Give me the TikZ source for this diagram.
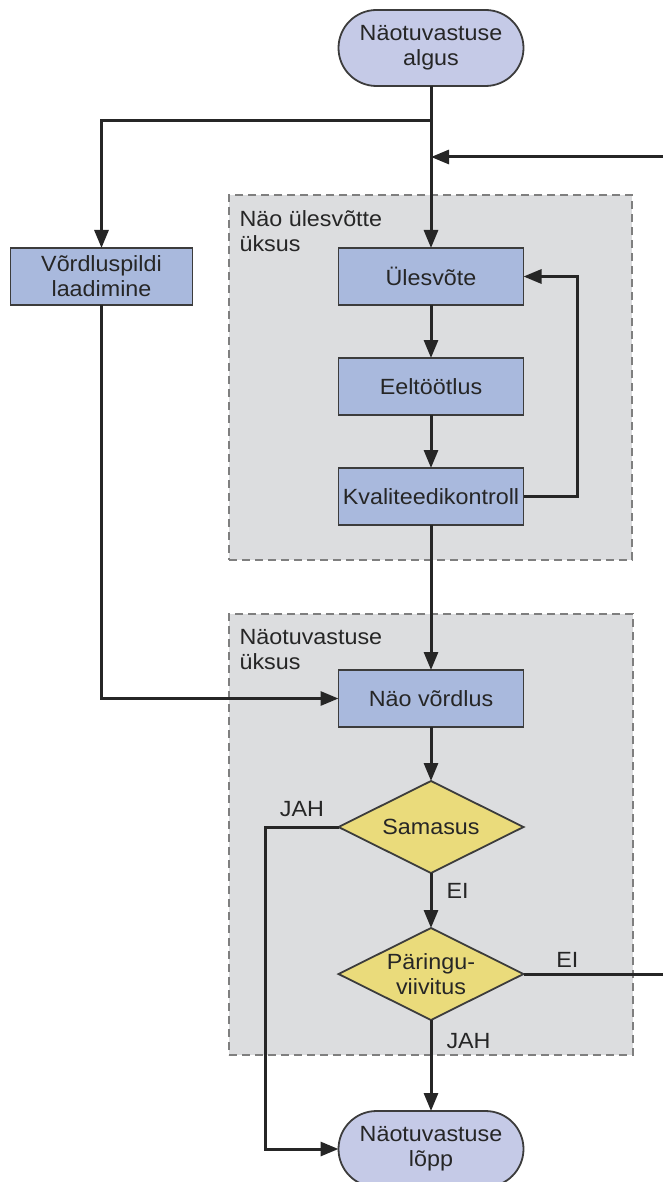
\documentclass[tikz,border=0pt]{standalone}
\usepackage{fontspec}
\setmainfont{Liberation Sans}[FakeStretch=1.06]
\definecolor{nvBox}{HTML}{A9B9DD}
\definecolor{nvTerm}{HTML}{C5CAE7}
\definecolor{nvDecide}{HTML}{EADB7B}
\definecolor{nvGroup}{HTML}{DCDDDF}
\definecolor{nvDash}{HTML}{7F7F7F}
\definecolor{nvLine}{HTML}{262626}
\usetikzlibrary{shapes.geometric, arrows.meta, positioning}

\begin{document}
\begin{tikzpicture}[
  x=0.5pt, y=-0.5pt,
  every node/.style={font=\fontsize{11}{12.5}\selectfont, text=nvLine},
  box/.style={draw=nvLine!90, fill=nvBox, line width=0.9pt, minimum width=92.5pt,
    minimum height=28.5pt, align=center, inner sep=1pt, outer sep=0pt},
  term/.style={draw=nvLine!90, fill=nvTerm, line width=0.9pt, rounded corners=19pt,
    minimum width=92.5pt, minimum height=38pt, align=center, inner sep=1pt, outer sep=0pt},
  decide/.style={diamond, aspect=2, draw=nvLine!90, fill=nvDecide, line width=0.9pt,
    minimum width=92.5pt, minimum height=46pt, align=center, inner sep=0pt, outer sep=0pt},
  grp/.style={draw=nvDash, fill=nvGroup, dashed, dash pattern=on 4pt off 2.5pt,
    line width=0.8pt, inner sep=0pt},
  grplbl/.style={anchor=north west, align=left, inner sep=0pt},
  arr/.style={-{Triangle[length=9pt, width=7pt]}, line width=1.5pt, draw=nvLine},
  line/.style={line width=1.5pt, draw=nvLine},
  lbl/.style={inner sep=2pt}
]
  \useasboundingbox (0,0) rectangle (663,1182);

  % Units
  \node[grp, minimum width=201.5pt, minimum height=182.5pt] (unitA) at (430.5,377.5) {};
  \node[grp, minimum width=202pt, minimum height=220.5pt] (unitB) at (431,834.5) {};
  \node[grplbl] at ([xshift=5.5pt, yshift=-8pt]unitA.north west) {Näo ülesvõtte\\üksus};
  \node[grplbl] at ([xshift=5.5pt, yshift=-8pt]unitB.north west) {Näotuvastuse\\üksus};

  % Nodes
  \node[term] (start) at (431,48) {Näotuvastuse\\algus};
  \node[box, below=81pt of start] (ules) {Ülesvõte};
  \node[box, below=26.5pt of ules] (eel) {Eeltöötlus};
  \node[box, below=26.5pt of eel] (kval) {Kvaliteedikontroll};
  \node[box, minimum width=91pt, left=73pt of ules] (vord) {Võrdluspildi\\laadimine};
  \node[box, below=72.5pt of kval] (vordlus) {Näo võrdlus};
  \node[decide, below=27pt of vordlus] (sam) {Samasus};
  \node[decide, below=27.5pt of sam] (par) {Päringu-\\viivitus};
  \node[term, below=45.5pt of par] (endt) {Näotuvastuse\\lõpp};

  \coordinate (j1) at ([yshift=-17.5pt]start.south);
  \coordinate (j2) at ([yshift=-35.5pt]start.south);
  \coordinate (rt) at (665,157);

  % Paths
  \draw[line] (start) -- (j1);
  \draw[arr] (j1) -| (vord);
  \draw[arr] (j1) -- (ules);
  \draw[arr] (ules) -- (eel);
  \draw[arr] (eel) -- (kval);
  \draw[arr] (kval.east) -- ++(27pt,0) |- (ules.east);
  \draw[arr] (kval) -- (vordlus);
  \draw[arr] (vord) |- (vordlus);
  \draw[arr] (vordlus) -- (sam);
  \draw[arr] (sam.west) -- node[lbl, above, yshift=2.5pt] {JAH} ++(-36.5pt,0) |- (endt.west);
  \draw[arr] (sam) -- node[lbl, right, pos=0.33, xshift=5pt] {EI} (par);
  \draw[arr] (par) -- node[lbl, right, pos=0.23, xshift=5pt] {JAH} (endt);
  \draw[arr] (par.east) -| node[lbl, above, pos=0.155, yshift=0.5pt] {EI} (rt) -- (j2);
\end{tikzpicture}
\end{document}
